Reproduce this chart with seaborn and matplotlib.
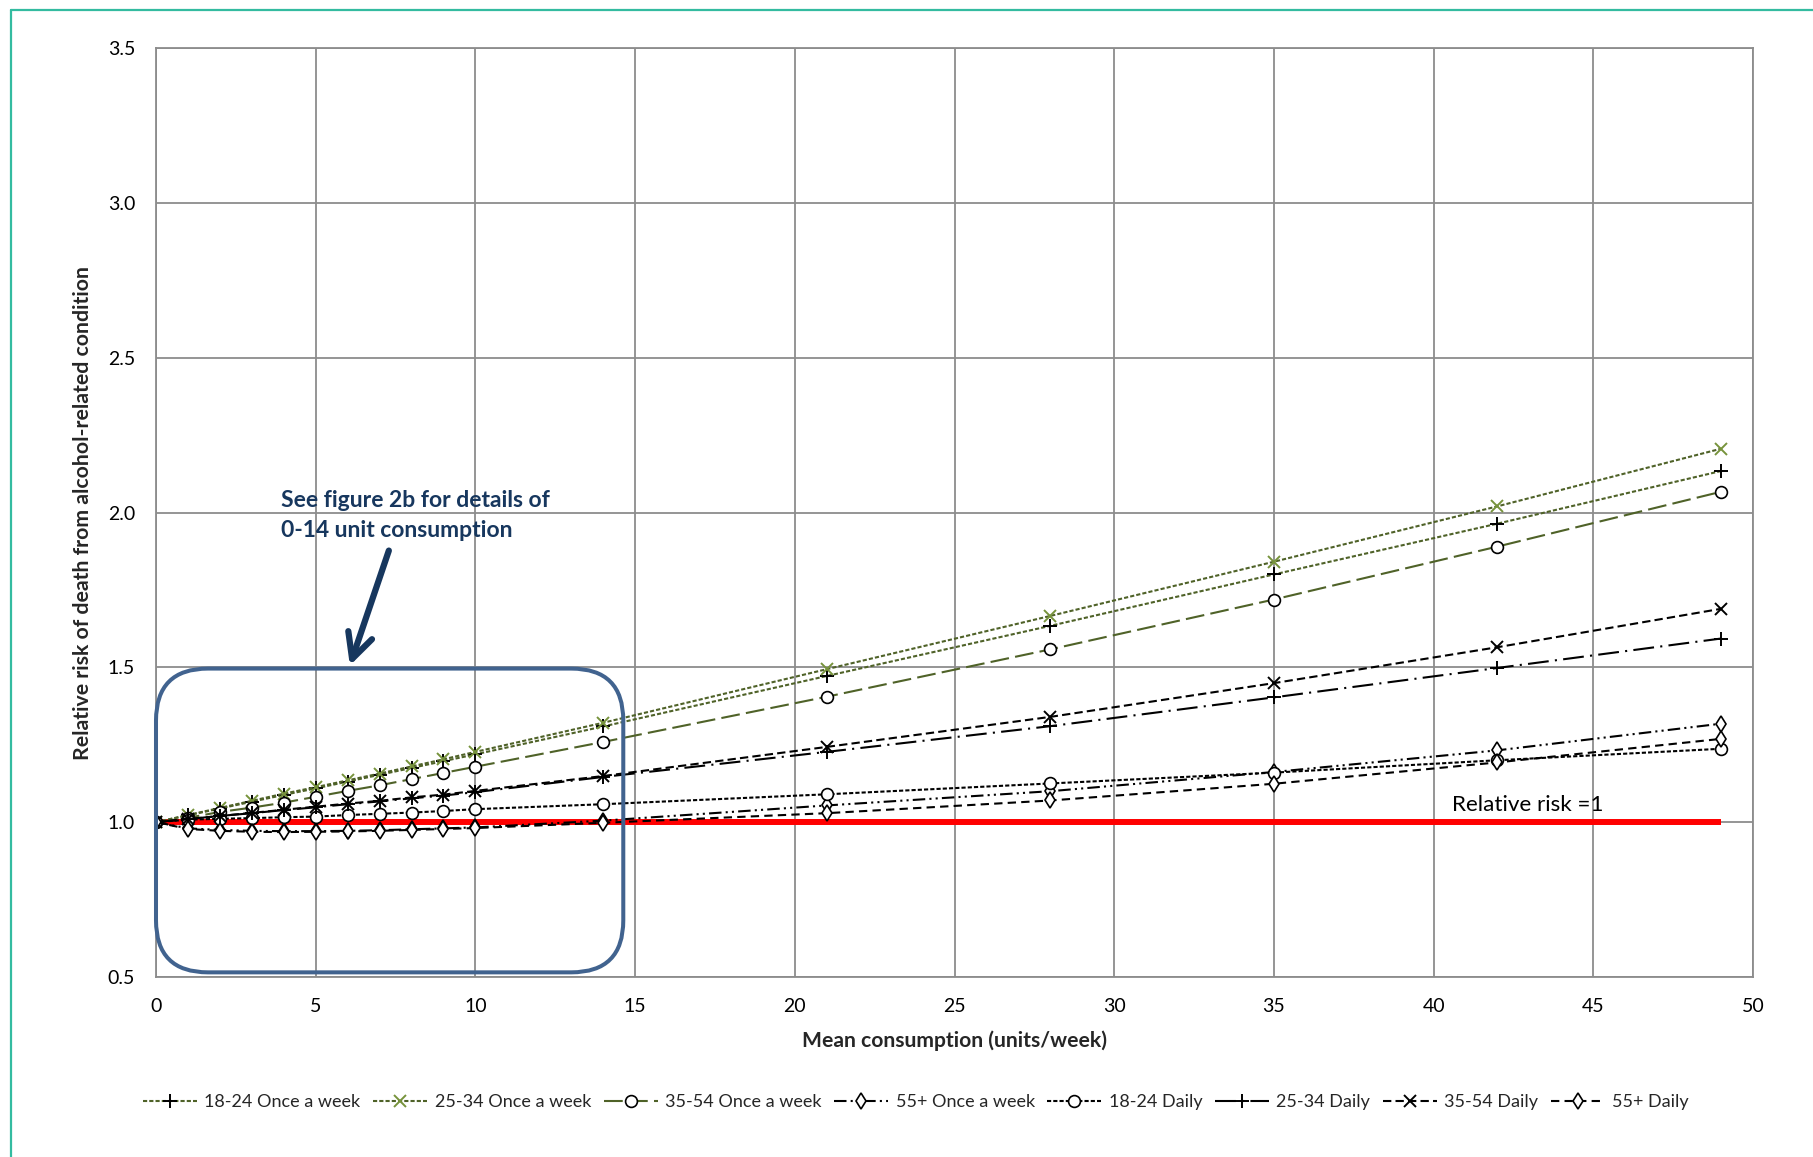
import matplotlib
matplotlib.use("Agg")
import matplotlib.pyplot as plt
import seaborn as sns
import pandas as pd
from matplotlib.patches import FancyBboxPatch
from matplotlib.transforms import IdentityTransform
from matplotlib.lines import Line2D

# ---------------- data ----------------
units = [0, 1, 2, 3, 4, 5, 6, 7, 8, 9, 10, 14, 21, 28, 35, 42, 49]

rr_1824_weekly = [1.000, 1.022, 1.044, 1.066, 1.088, 1.109, 1.131, 1.153, 1.175, 1.197, 1.219, 1.309, 1.472, 1.634, 1.800, 1.964, 2.134]
rr_2534_weekly = [1.000, 1.023, 1.046, 1.069, 1.092, 1.113, 1.135, 1.157, 1.180, 1.203, 1.227, 1.321, 1.494, 1.666, 1.841, 2.020, 2.206]
rr_3554_weekly = [1.000, 1.014, 1.033, 1.047, 1.063, 1.082, 1.101, 1.119, 1.139, 1.159, 1.179, 1.259, 1.405, 1.558, 1.719, 1.890, 2.067]
rr_55_weekly   = [1.000, 0.980, 0.975, 0.972, 0.971, 0.971, 0.972, 0.974, 0.977, 0.980, 0.983, 1.005, 1.054, 1.100, 1.162, 1.232, 1.318]
rr_1824_daily  = [1.000, 1.008, 1.011, 1.013, 1.016, 1.018, 1.023, 1.027, 1.031, 1.036, 1.042, 1.058, 1.090, 1.125, 1.160, 1.200, 1.237]
rr_2534_daily  = [1.000, 1.010, 1.020, 1.029, 1.039, 1.048, 1.058, 1.067, 1.077, 1.086, 1.097, 1.146, 1.227, 1.310, 1.403, 1.498, 1.593]
rr_3554_daily  = [1.000, 1.010, 1.020, 1.030, 1.040, 1.050, 1.060, 1.069, 1.080, 1.089, 1.101, 1.149, 1.243, 1.340, 1.449, 1.565, 1.689]
rr_55_daily    = [1.000, 0.978, 0.972, 0.969, 0.968, 0.969, 0.970, 0.972, 0.975, 0.978, 0.981, 0.998, 1.029, 1.070, 1.124, 1.193, 1.269]

series_labels = ["18-24 Once a week", "25-34 Once a week", "35-54 Once a week", "55+ Once a week",
                 "18-24 Daily", "25-34 Daily", "35-54 Daily", "55+ Daily"]
series_values = [rr_1824_weekly, rr_2534_weekly, rr_3554_weekly, rr_55_weekly,
                 rr_1824_daily, rr_2534_daily, rr_3554_daily, rr_55_daily]

x_ticks = [0, 5, 10, 15, 20, 25, 30, 35, 40, 45, 50]
y_ticks = [0.5, 1.0, 1.5, 2.0, 2.5, 3.0, 3.5]

# ---------------- style ----------------
sns.set_style("white")
plt.rcParams["font.family"] = ["Lato", "DejaVu Sans"]

GREEN = "#4F6228"
LGREEN = "#77933C"
GRID = "#8C8C8C"
NAVY = "#17375E"
BOXBLUE = "#41638F"

styles = [
    dict(color=GREEN, linestyle=(0, (2, 1)), marker="+", mec="black", mfc="black", ms=10, mew=1.4),
    dict(color=GREEN, linestyle=(0, (2, 1)), marker="x", mec=LGREEN, mfc=LGREEN, ms=8, mew=1.4),
    dict(color=GREEN, linestyle=(0, (9, 3)), marker="o", mec="black", mfc="white", ms=8.5, mew=1.2),
    dict(color="black", linestyle=(0, (6, 2, 1, 2, 1, 2)), marker="d", mec="black", mfc="white", ms=8, mew=1.2),
    dict(color="black", linestyle=(0, (2, 1)), marker="o", mec="black", mfc="white", ms=8.5, mew=1.2),
    dict(color="black", linestyle=(0, (10, 3, 1, 3)), marker="+", mec="black", mfc="black", ms=10, mew=1.4),
    dict(color="black", linestyle=(0, (4, 2)), marker="x", mec="black", mfc="black", ms=8, mew=1.4),
    dict(color="black", linestyle=(0, (4, 2.5)), marker="d", mec="black", mfc="white", ms=8, mew=1.2),
]

W, H = 1813, 1157
fig = plt.figure(figsize=(W / 100, H / 100), dpi=100)
ax_left, ax_right, ax_top, ax_bottom = 156, 1753, 48, 977
ax = fig.add_axes([ax_left / W, 1 - ax_bottom / H, (ax_right - ax_left) / W, (ax_bottom - ax_top) / H])

# reference line
ax.plot([units[0], units[-1]], [1.0, 1.0], color="#FF0000", lw=4.3, zorder=2, solid_capstyle="butt")

for lab, vals, st in zip(series_labels, series_values, styles):
    df = pd.DataFrame({"units": units, "rr": vals})
    sns.lineplot(data=df, x="units", y="rr", ax=ax, label=lab, lw=1.5, zorder=3, **st)

handles, labels = ax.get_legend_handles_labels()
if ax.get_legend() is not None:
    ax.get_legend().remove()

ax.set_xlim(0, 50)
ax.set_ylim(0.5, 3.5)
ax.set_xticks(x_ticks)
ax.set_yticks(y_ticks)
ax.set_xticklabels([str(t) for t in x_ticks])
ax.set_yticklabels([f"{t:.1f}" for t in y_ticks])
ax.grid(True, color=GRID, lw=1.3)
ax.set_axisbelow(True)
for sp in ax.spines.values():
    sp.set_color(GRID)
    sp.set_linewidth(1.3)
ax.tick_params(direction="out", length=7, width=1.3, color=GRID, labelsize=14, labelcolor="black", pad=8)

ax.set_xlabel("Mean consumption (units/week)", fontsize=15.2, fontweight="bold", labelpad=11)
ax.set_ylabel("Relative risk of death from alcohol-related condition", fontsize=15.3, fontweight="bold", labelpad=11)

# relative risk label
ax.text(40.57, 1.056, "Relative risk =1", fontsize=16.2, ha="left", va="center", color="black")

# annotation text and arrow
ax.text(3.91, 1.99, "See figure 2b for details of\n0-14 unit consumption", fontsize=16.5,
        fontweight="bold", color=NAVY, ha="left", va="center", linespacing=1.55)
ax.annotate("", xy=(6.07, 1.506), xytext=(7.29, 1.877),
            arrowprops=dict(arrowstyle="->,head_length=0.9,head_width=0.45", lw=4.5, color=NAVY,
                            mutation_scale=20, shrinkA=0, shrinkB=0))

# rounded box (drawn in pixel space so corners stay circular)
(x0, y0), (x1, y1) = ax.transData.transform([(0.0, 0.515), (14.63, 1.496)])
box = FancyBboxPatch((x0, y0), x1 - x0, y1 - y0, boxstyle="round,pad=0,rounding_size=52",
                     transform=IdentityTransform(), fill=False, edgecolor=BOXBLUE, lw=2.9,
                     zorder=4, clip_on=False)
ax.add_patch(box)

# legend
fig.legend(handles, labels, loc="center", bbox_to_anchor=(916 / W, 1 - 1102 / H), ncol=8,
           frameon=False, fontsize=13, handlelength=3.0, columnspacing=0.7, handletextpad=0.4,
           numpoints=1)

# teal frame lines
fig.add_artist(Line2D([11 / W, 1.0], [1 - 10 / H, 1 - 10 / H], transform=fig.transFigure, color="#33BBA0", lw=1.6))
fig.add_artist(Line2D([11 / W, 11 / W], [0.0, 1 - 10 / H], transform=fig.transFigure, color="#33BBA0", lw=1.6))

fig.savefig("out.png", dpi=100)
